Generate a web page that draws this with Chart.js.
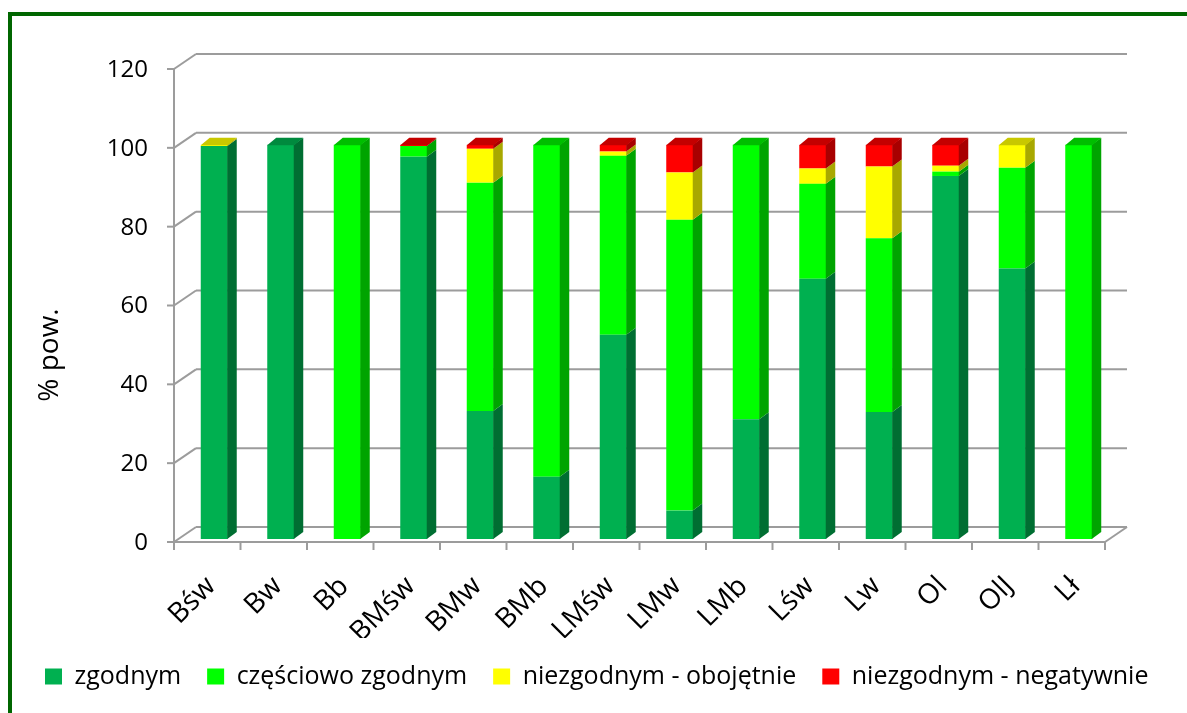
<!DOCTYPE html>
<html>
<head>
<meta charset="utf-8">
<script src="https://cdn.jsdelivr.net/npm/chart.js@4.4.1/dist/chart.umd.min.js"></script>
<style>
  html, body { margin: 0; padding: 0; background: #fff; }
  #wrap { width: 1187px; height: 713px; }
</style>
</head>
<body>
<div id="wrap"><canvas id="chart"></canvas></div>
<script>
const categories = ['Bśw', 'Bw', 'Bb', 'BMśw', 'BMw', 'BMb', 'LMśw', 'LMw', 'LMb', 'Lśw', 'Lw', 'Ol', 'OlJ', 'Lł']
const seriesNames = ['zgodnym', 'częściowo zgodnym', 'niezgodnym - obojętnie', 'niezgodnym - negatywnie']
const zgodnym = [99.7, 100, 0, 97.0, 32.5, 15.8, 51.8, 7.2, 30.4, 66.0, 32.2, 92.1, 68.6, 0]
const czesciowo = [0, 0, 100, 2.7, 57.9, 84.2, 45.4, 73.8, 69.6, 24.1, 44.1, 1.1, 25.6, 100]
const obojetnie = [0.3, 0, 0, 0, 8.6, 0, 1.1, 12.0, 0, 3.9, 18.2, 1.5, 5.8, 0]
const negatywnie = [0, 0, 0, 0.3, 1.0, 0, 1.7, 7.0, 0, 6.0, 5.5, 5.3, 0, 0]
const yTicks = { min: 0, max: 120, step: 20 }

const faceColors = ['#00B050', '#00FF00', '#FFFF00', '#FF0000']
const sideColors = ['#006E32', '#00A400', '#A8A800', '#A80000']
const topColors = ['#008A3E', '#00BE00', '#C8C800', '#C40000']
const family = "'Open Sans', 'Liberation Sans', sans-serif"

// 3d offsets (px) relative to the bar front plane
const barDepth = { dx: 9, dy: -7 }
const backWall = { dx: 15, dy: -12 }
const frontAxis = { dx: -7, dy: 3 }

function line(ctx, x1, y1, x2, y2) {
    ctx.beginPath(); ctx.moveTo(x1, y1); ctx.lineTo(x2, y2); ctx.stroke()
}
function poly(ctx, pts) {
    ctx.beginPath()
    pts.forEach((p, i) => i ? ctx.lineTo(p[0], p[1]) : ctx.moveTo(p[0], p[1]))
    ctx.closePath(); ctx.fill()
}

const threeD = {
    id: 'threeD',
    beforeDraw(chart) {
        const ctx = chart.ctx
        ctx.save()
        ctx.fillStyle = '#006600'
        ctx.fillRect(8, 12, 4, chart.height)
        ctx.fillRect(8, 12, chart.width, 4)
        ctx.restore()
    },
    beforeDatasetsDraw(chart) {
        const { ctx, chartArea: a, scales: { x, y } } = chart
        ctx.save()
        ctx.strokeStyle = '#9c9c9c'
        ctx.lineWidth = 2
        y.ticks.forEach(t => {
            const py = y.getPixelForValue(t.value)
            line(ctx, a.left + frontAxis.dx, py + frontAxis.dy, a.left + backWall.dx, py + backWall.dy)
            line(ctx, a.left + backWall.dx, py + backWall.dy, a.right + backWall.dx, py + backWall.dy)
            line(ctx, a.left + frontAxis.dx - 7, py + frontAxis.dy, a.left + frontAxis.dx, py + frontAxis.dy)
        })
        const y0 = y.getPixelForValue(yTicks.min) + frontAxis.dy
        const yTop = y.getPixelForValue(yTicks.max) + frontAxis.dy
        line(ctx, a.left + frontAxis.dx, yTop, a.left + frontAxis.dx, y0)
        line(ctx, a.left + frontAxis.dx, y0, a.right + frontAxis.dx, y0)
        line(ctx, a.right + frontAxis.dx, y0, a.right + backWall.dx, y0 - frontAxis.dy + backWall.dy)
        const band = x.getPixelForValue(1) - x.getPixelForValue(0)
        for (let i = 0; i <= categories.length; i++) {
            const px = x.getPixelForValue(0) - band / 2 + i * band + frontAxis.dx
            line(ctx, px, y0, px, y0 + 8)
        }
        ctx.restore()
    },
    afterDatasetsDraw(chart) {
        const ctx = chart.ctx
        const sets = chart.data.datasets
        ctx.save()
        sets.forEach((ds, di) => {
            chart.getDatasetMeta(di).data.forEach((bar, i) => {
                if (!ds.data[i]) return
                const { x: cx, y: top, base, width } = bar.getProps(['x', 'y', 'base', 'width'], true)
                const l = cx - width / 2, r = cx + width / 2
                const d = barDepth
                ctx.fillStyle = sideColors[di]
                poly(ctx, [[r - 0.5, top], [r + d.dx, top + d.dy], [r + d.dx, base + d.dy], [r - 0.5, base]])
                const isTop = sets.slice(di + 1).every(s => !s.data[i])
                if (isTop) {
                    ctx.fillStyle = topColors[di]
                    poly(ctx, [[l, top + 0.5], [r, top + 0.5], [r + d.dx, top + d.dy], [l + d.dx, top + d.dy]])
                }
            })
        })
        // y axis title
        ctx.translate(50, 355)
        ctx.rotate(-Math.PI / 2)
        ctx.fillStyle = '#000'
        ctx.font = `28px ${family}`
        ctx.textAlign = 'center'
        ctx.textBaseline = 'middle'
        ctx.fillText('% pow.', 0, 0)
        ctx.restore()
    }
}

const values = [zgodnym, czesciowo, obojetnie, negatywnie]

new Chart(document.getElementById('chart'), {
    type: 'bar',
    data: {
        labels: categories,
        datasets: values.map((v, i) => ({
            label: seriesNames[i],
            data: v,
            backgroundColor: faceColors[i],
            borderWidth: 0,
            barPercentage: 0.406,
            categoryPercentage: 1
        }))
    },
    options: {
        responsive: true,
        maintainAspectRatio: false,
        animation: false,
        layout: { padding: { left: 19, right: 0, top: 66, bottom: 14 } },
        scales: {
            x: {
                stacked: true,
                grid: { display: false, drawTicks: false },
                border: { display: false },
                ticks: {
                    color: '#000', font: { family, size: 28 }, autoSkip: false,
                    minRotation: 45, maxRotation: 45,
                    padding: 31, labelOffset: -3
                },
                afterFit: s => { s.height = 99 }
            },
            y: {
                stacked: true,
                min: yTicks.min, max: yTicks.max,
                grid: { display: false, drawTicks: false },
                border: { display: false },
                ticks: { stepSize: yTicks.step, color: '#000', font: { family, size: 24 }, padding: 33, labelOffset: 4 },
                afterFit: s => { s.width = 162 }
            },
            depth: {
                type: 'linear',
                position: 'right',
                grid: { display: false, drawTicks: false },
                border: { display: false },
                ticks: { display: false },
                afterFit: s => { s.width = 75 }
            }
        },
        plugins: {
            legend: {
                position: 'bottom',
                align: 'start',
                labels: { color: '#000', font: { family, size: 25 }, boxWidth: 17, boxHeight: 16, padding: 26 }
            },
            tooltip: { enabled: false }
        }
    },
    plugins: [threeD]
})
</script>
</body>
</html>
